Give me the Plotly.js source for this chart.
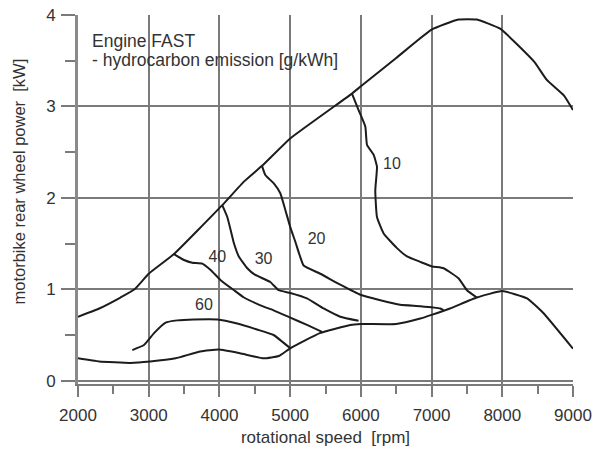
<!DOCTYPE html>
<html>
<head>
<meta charset="utf-8">
<script src="https://cdn.plot.ly/plotly-3.0.1.min.js"></script>
<style>html,body{margin:0;padding:0;background:#fff;}#chart{width:593px;height:450px;}</style>
</head>
<body>
<div id="chart"></div>
<script>
// Full-load (upper envelope) curve
const fullLoadRpm = [2000, 2300, 2600, 2800, 3000, 3357, 4040, 4350, 4602, 5002, 5874, 6000, 6500, 7000, 7380, 7640, 7970, 8450, 8630, 8870, 9000];
const fullLoadKw  = [0.70, 0.79, 0.91, 1.00, 1.17, 1.385, 1.92, 2.18, 2.35, 2.65, 3.14, 3.22, 3.53, 3.84, 3.95, 3.95, 3.85, 3.49, 3.29, 3.12, 2.96];

// Lower boundary curve
const minLoadRpm = [2000, 2300, 2740, 3020, 3380, 3730, 3990, 4290, 4625, 4840, 5002, 5420, 5850, 6000, 6500, 6840, 7000, 7260, 7640, 8000, 8350, 8580, 9000];
const minLoadKw  = [0.245, 0.21, 0.195, 0.21, 0.245, 0.32, 0.34, 0.30, 0.245, 0.27, 0.354, 0.52, 0.61, 0.62, 0.62, 0.68, 0.72, 0.79, 0.91, 0.98, 0.90, 0.74, 0.35];

// Iso-emission lines [g/kWh]
const hc10Rpm = [5874, 5968, 6063, 6087, 6181, 6228, 6204, 6228, 6322, 6511, 6652, 6840, 7005, 7170, 7381, 7500, 7641];
const hc10Kw  = [3.14, 2.96, 2.78, 2.58, 2.47, 2.34, 2.08, 1.79, 1.61, 1.45, 1.36, 1.30, 1.25, 1.23, 1.12, 0.99, 0.91];

const hc20Rpm = [4602, 4649, 4766, 4861, 4931, 5002, 5073, 5140, 5190, 5426, 5709, 5992, 6275, 6557, 6840, 7123, 7170];
const hc20Kw  = [2.35, 2.25, 2.16, 2.05, 1.87, 1.68, 1.52, 1.36, 1.26, 1.17, 1.05, 0.94, 0.88, 0.83, 0.815, 0.79, 0.77];

const hc30Rpm = [4040, 4111, 4158, 4206, 4276, 4394, 4500, 4719, 4837, 5002, 5238, 5473, 5709, 5968];
const hc30Kw  = [1.92, 1.79, 1.65, 1.50, 1.355, 1.23, 1.16, 1.08, 0.99, 0.96, 0.90, 0.79, 0.70, 0.655];

const hc40Rpm = [3357, 3499, 3616, 3758, 3876, 4017, 4206, 4347, 4625, 4766, 5002, 5238, 5451];
const hc40Kw  = [1.385, 1.32, 1.29, 1.28, 1.21, 1.10, 0.99, 0.91, 0.81, 0.77, 0.69, 0.61, 0.535];

const hc60Rpm = [2768, 2933, 3075, 3239, 3404, 3640, 3970, 4252, 4531, 4766, 5002];
const hc60Kw  = [0.335, 0.39, 0.52, 0.635, 0.66, 0.67, 0.67, 0.625, 0.56, 0.50, 0.354];

// Iso-line labels
const labelText = ['10', '20', '30', '40', '60'];
const labelRpm  = [6440, 5374, 4624, 3970, 3782];
const labelKw   = [2.357, 1.54, 1.319, 1.337, 0.82];

const xTickVals = [2000, 3000, 4000, 5000, 6000, 7000, 8000, 9000];
const yTickVals = [0, 1, 2, 3, 4];

const xTitle = 'rotational speed\u00a0\u00a0[rpm]';
const yTitle = 'motorbike rear wheel power\u00a0\u00a0[kW]';
const noteLines = ['Engine FAST', '- hydrocarbon emission [g/kWh]'];

const lineStyle = {color: '#1c1c1c', width: 2, shape: 'spline', smoothing: 0.4};
function curve(x, y) {
  return {x: x, y: y, type: 'scatter', mode: 'lines', line: lineStyle, hoverinfo: 'skip', showlegend: false};
}

const traces = [
  curve(fullLoadRpm, fullLoadKw),
  curve(minLoadRpm, minLoadKw),
  curve(hc10Rpm, hc10Kw),
  curve(hc20Rpm, hc20Kw),
  curve(hc30Rpm, hc30Kw),
  curve(hc40Rpm, hc40Kw),
  curve(hc60Rpm, hc60Kw),
  {x: labelRpm, y: labelKw, text: labelText, type: 'scatter', mode: 'text',
   textfont: {size: 16, color: '#333'}, hoverinfo: 'skip', showlegend: false}
];

const gridCol = '#7a7a7a';
const layout = {
  width: 593, height: 450,
  margin: {l: 78, r: 20, t: 15, b: 66},
  paper_bgcolor: '#fff', plot_bgcolor: '#fff',
  font: {family: 'Liberation Sans, Arial, sans-serif', color: '#333', size: 16},
  xaxis: {
    range: [2000, 9000], tickmode: 'array', tickvals: xTickVals,
    showgrid: true, gridcolor: gridCol, gridwidth: 2, zeroline: false,
    showline: true, linecolor: gridCol, linewidth: 2,
    ticks: 'outside', ticklen: 11, tickwidth: 2, tickcolor: gridCol,
    minor: {dtick: 500, tick0: 2000, ticks: 'outside', ticklen: 8, tickwidth: 2, tickcolor: gridCol, showgrid: false},
    tickfont: {size: 17, color: '#333'}, ticklabelstandoff: 4,
    title: {text: xTitle, font: {size: 17, color: '#333'}, standoff: 7}
  },
  yaxis: {
    range: [-0.036, 4], tickmode: 'array', tickvals: yTickVals,
    showgrid: true, gridcolor: gridCol, gridwidth: 2, zeroline: false,
    showline: true, linecolor: '#8a8a8a', linewidth: 3,
    ticks: 'outside', ticklen: 14, tickwidth: 2, tickcolor: gridCol,
    minor: {dtick: 0.5, tick0: 0, ticks: 'outside', ticklen: 10, tickwidth: 2, tickcolor: gridCol, showgrid: false},
    tickfont: {size: 17, color: '#333'}, ticklabelstandoff: 2
  },
  annotations: [
    {text: yTitle, xref: 'paper', yref: 'paper', x: -0.119, y: 0.549, xanchor: 'center', yanchor: 'middle',
     textangle: -90, showarrow: false, font: {size: 16.5, color: '#333'}},
    {text: noteLines[0], xref: 'x', yref: 'y', x: 2170, y: 3.72, xanchor: 'left', yanchor: 'middle',
     showarrow: false, font: {size: 17.5, color: '#333'}},
    {text: noteLines[1], xref: 'x', yref: 'y', x: 2170, y: 3.505, xanchor: 'left', yanchor: 'middle',
     showarrow: false, font: {size: 17.5, color: '#333'}}
  ]
};

Plotly.newPlot('chart', traces, layout, {displayModeBar: false, staticPlot: true});
</script>
</body>
</html>
